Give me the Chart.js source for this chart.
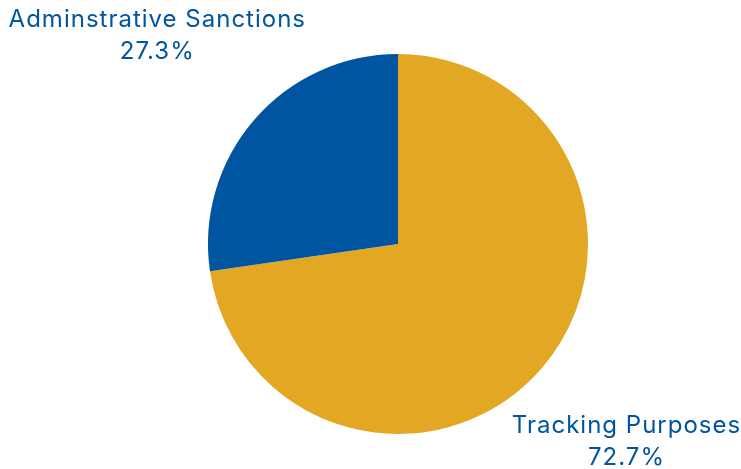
<!DOCTYPE html>
<html>
<head>
<meta charset="utf-8">
<script src="https://cdn.jsdelivr.net/npm/chart.js@4.4.1/dist/chart.umd.min.js"></script>
<style>
  html, body { margin: 0; padding: 0; background: #fff; }
  #wrap { width: 741px; height: 469px; }
</style>
</head>
<body>
<div id="wrap"><canvas id="pie"></canvas></div>
<script>
// data
const categories = ["Tracking Purposes", "Adminstrative Sanctions"];
const shares = [72.7, 27.3];
const sliceColors = ["#E3A823", "#0055A0"];
const labelColor = "#0055A0";

// draws "name / pct%" out along each slice's middle angle
const outsideLabels = {
  id: "outsideLabels",
  afterDatasetsDraw(chart) {
    const ctx = chart.ctx;
    const meta = chart.getDatasetMeta(0);
    const dist = [1.59, 1.675]; // tuned per label so they sit like the original
    ctx.save();
    ctx.fillStyle = labelColor;
    ctx.font = "24px Inter";
    ctx.letterSpacing = "1px";
    ctx.textAlign = "center";
    ctx.textBaseline = "middle";
    meta.data.forEach((arc, i) => {
      const mid = (arc.startAngle + arc.endAngle) / 2;
      const r = arc.outerRadius * dist[i];
      const x = arc.x + Math.cos(mid) * r;
      const y = arc.y + Math.sin(mid) * r;
      ctx.fillText(categories[i], x, y - 16);
      ctx.fillText(shares[i].toFixed(1) + "%", x, y + 16);
    });
    ctx.restore();
  }
};

new Chart(document.getElementById("pie"), {
  type: "pie",
  data: {
    labels: categories,
    datasets: [{
      data: shares,
      backgroundColor: sliceColors,
      borderWidth: 0,
    }],
  },
  options: {
    responsive: true,
    maintainAspectRatio: false,
    animation: false,
    layout: { padding: { top: 54, bottom: 35, left: 208, right: 153 } },
    plugins: {
      legend: { display: false },
      tooltip: { enabled: false },
    },
  },
  plugins: [outsideLabels],
});
</script>
</body>
</html>
